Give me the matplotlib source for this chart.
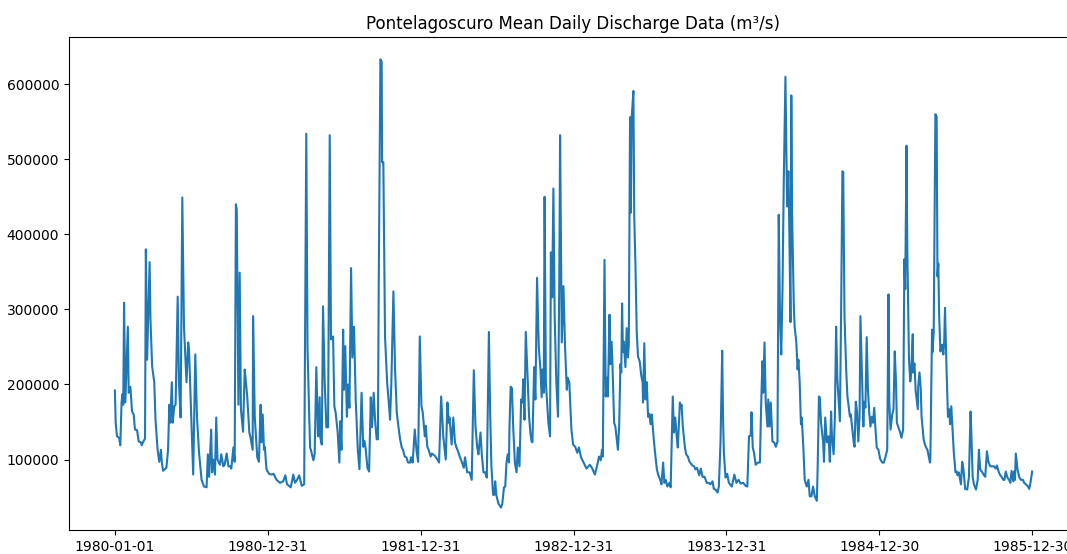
import numpy as np
import matplotlib
matplotlib.use("Agg")
import matplotlib.pyplot as plt
import matplotlib.dates as mdates

# Pontelagoscuro discharge
# day = days since 1980-01-01, q = discharge
start = np.datetime64("1980-01-01")

day_1980 = [0, 2, 5, 10, 13, 16, 18, 20, 22, 25, 31, 33, 37, 41, 45, 48, 53, 57, 62, 64, 68, 72, 74, 77, 83, 85,
            89, 94, 97, 102, 106, 110, 112, 115, 123, 127, 130, 132, 136, 138, 142, 145, 150, 153, 157, 161, 165,
            171, 175, 177, 181, 187, 192, 196, 201, 207, 213, 219, 222, 225, 230, 232, 235, 239, 242, 245, 251,
            254, 259, 262, 267, 271, 276, 278, 283, 286, 289, 291, 295, 298, 301, 306, 310, 312, 316, 321, 324,
            329, 330, 334, 340, 344, 348, 350, 353, 356, 358, 362]
q_1980 = [192000, 149000, 131000, 129000, 119000, 176000, 187000, 173000, 309000, 176000, 277000, 189000, 197000,
          164000, 160000, 140000, 139000, 124000, 123000, 119000, 124000, 128000, 380000, 233000, 363000, 287000,
          224000, 203000, 153000, 113000, 97000, 113000, 97000, 85000, 89000, 113000, 173000, 149000, 203000,
          149000, 171000, 173000, 317000, 203000, 156000, 449000, 277000, 203000, 256000, 247000, 180000, 80000,
          240000, 157000, 109000, 73000, 64000, 63000, 107000, 77000, 140000, 83000, 100000, 80000, 156000,
          100000, 93000, 107000, 91000, 93000, 108000, 91000, 91000, 88000, 116000, 97000, 440000, 433000,
          173000, 349000, 167000, 137000, 220000, 209000, 184000, 136000, 129000, 113000, 291000, 157000,
          103000, 97000, 173000, 123000, 160000, 113000, 117000, 87000]

day_1981 = [368, 374, 379, 386, 394, 402, 407, 411, 420, 426, 430, 435, 440, 446, 452, 457, 460, 466, 468, 474,
            477, 481, 485, 489, 490, 494, 497, 501, 505, 509, 513, 516, 521, 524, 527, 532, 536, 538, 541, 545,
            547, 550, 554, 557, 560, 564, 567, 571, 575, 580, 584, 589, 593, 596, 599, 603, 607, 611, 614, 618,
            621, 625, 628, 630, 634, 637, 638, 641, 645, 650, 654, 657, 660, 665, 669, 673, 677, 681, 685, 688,
            692, 696, 700, 705, 707, 711, 716, 720, 724, 728, 732, 735]
q_1981 = [81000, 80000, 81000, 73000, 69000, 71000, 79000, 67000, 63000, 80000, 69000, 73000, 79000, 65000,
          67000, 534000, 247000, 116000, 113000, 99000, 107000, 223000, 131000, 183000, 131000, 120000, 304000,
          203000, 143000, 143000, 532000, 260000, 264000, 171000, 163000, 136000, 96000, 151000, 113000,
          273000, 193000, 251000, 157000, 200000, 169000, 355000, 236000, 277000, 180000, 113000, 87000,
          189000, 117000, 125000, 113000, 89000, 84000, 183000, 143000, 189000, 155000, 127000, 127000,
          336000, 633000, 630000, 496000, 496000, 264000, 203000, 176000, 153000, 200000, 324000, 220000,
          163000, 144000, 127000, 116000, 113000, 104000, 103000, 96000, 96000, 103000, 96000, 140000,
          113000, 97000, 264000, 171000, 163000]

day_1982 = [740, 742, 746, 749, 754, 757, 764, 770, 774, 779, 784, 790, 794, 797, 799, 804, 808, 812, 815, 818,
            824, 829, 833, 836, 841, 847, 852, 857, 861, 865, 868, 873, 876, 880, 884, 888, 893, 896, 899, 903,
            906, 908, 911, 916, 922, 925, 929, 932, 935, 938, 941, 942, 945, 948, 951, 955, 959, 962, 966, 970,
            973, 975, 978, 981, 985, 989, 992, 995, 997, 1001, 1004, 1008, 1012, 1016, 1019, 1021, 1024, 1026,
            1029, 1035, 1039, 1041, 1044, 1047, 1050, 1054, 1058, 1061, 1063, 1067, 1071, 1075, 1079, 1081,
            1085, 1090, 1094, 1099, 1104]
q_1982 = [131000, 145000, 117000, 113000, 104000, 108000, 105000, 100000, 96000, 184000, 131000, 100000,
          176000, 149000, 156000, 120000, 156000, 123000, 117000, 113000, 103000, 96000, 89000, 103000,
          83000, 83000, 73000, 219000, 144000, 117000, 107000, 136000, 107000, 83000, 83000, 76000, 270000,
          163000, 91000, 53000, 53000, 71000, 52000, 41000, 36000, 41000, 63000, 64000, 96000, 107000, 96000,
          140000, 197000, 195000, 144000, 96000, 83000, 116000, 91000, 180000, 176000, 207000, 153000,
          270000, 216000, 157000, 136000, 124000, 123000, 223000, 180000, 342000, 251000, 220000, 183000,
          220000, 189000, 450000, 203000, 149000, 131000, 376000, 316000, 461000, 291000, 203000, 157000,
          336000, 532000, 256000, 331000, 247000, 193000, 209000, 203000, 140000, 120000, 117000, 109000]

day_1983 = [1108, 1113, 1119, 1126, 1134, 1139, 1146, 1151, 1156, 1160, 1163, 1165, 1169, 1172, 1175, 1177,
            1181, 1183, 1186, 1188, 1192, 1195, 1199, 1201, 1204, 1207, 1209, 1211, 1213, 1215, 1219, 1222,
            1225, 1227, 1230, 1232, 1234, 1238, 1240, 1243, 1246, 1249, 1253, 1257, 1260, 1261, 1264, 1267,
            1270, 1273, 1276, 1279, 1282, 1286, 1289, 1294, 1297, 1302, 1305, 1309, 1312, 1315, 1319, 1324,
            1327, 1332, 1335, 1338, 1342, 1344, 1349, 1351, 1353, 1356, 1361, 1364, 1368, 1372, 1379, 1383,
            1386, 1390, 1395, 1399, 1403, 1408, 1413, 1418, 1422, 1427, 1430, 1434, 1439, 1442, 1446, 1450,
            1452, 1454, 1458, 1462, 1466, 1473, 1479]
q_1983 = [116000, 103000, 96000, 88000, 93000, 89000, 80000, 91000, 104000, 99000, 113000, 104000, 366000,
          184000, 209000, 184000, 293000, 227000, 257000, 227000, 149000, 144000, 123000, 113000, 144000,
          227000, 216000, 308000, 243000, 257000, 223000, 275000, 236000, 253000, 556000, 429000, 556000,
          591000, 424000, 357000, 269000, 237000, 231000, 211000, 203000, 176000, 255000, 180000, 203000,
          157000, 161000, 147000, 160000, 131000, 113000, 87000, 80000, 73000, 67000, 96000, 69000, 73000,
          64000, 69000, 63000, 184000, 136000, 156000, 127000, 116000, 176000, 169000, 173000, 144000,
          116000, 107000, 104000, 97000, 92000, 91000, 87000, 89000, 79000, 88000, 77000, 77000, 69000,
          69000, 67000, 71000, 61000, 60000, 56000, 64000, 123000, 245000, 157000, 109000, 76000, 81000,
          69000, 64000, 80000]

day_1984 = [1484, 1489, 1494, 1500, 1506, 1510, 1514, 1518, 1520, 1523, 1526, 1530, 1535, 1540, 1543, 1546,
            1548, 1551, 1554, 1558, 1560, 1563, 1566, 1570, 1574, 1578, 1582, 1585, 1588, 1591, 1594, 1597,
            1601, 1603, 1605, 1608, 1610, 1613, 1615, 1617, 1621, 1623, 1627, 1630, 1632, 1635, 1638, 1640,
            1644, 1647, 1652, 1656, 1659, 1663, 1667, 1671, 1676, 1678, 1681, 1683, 1686, 1691, 1693, 1696,
            1700, 1704, 1707, 1710, 1712, 1716, 1719, 1722, 1725, 1729, 1731, 1734, 1737, 1739, 1742, 1746,
            1749, 1752, 1755, 1757, 1760, 1764, 1766, 1769, 1772, 1775, 1778, 1780, 1783, 1787, 1789, 1792,
            1795, 1798, 1801, 1804, 1807, 1810, 1813, 1816, 1819, 1823, 1827, 1832, 1836, 1840, 1844, 1847]
q_1984 = [69000, 73000, 68000, 69000, 65000, 64000, 131000, 132000, 163000, 116000, 109000, 93000, 96000,
          96000, 171000, 231000, 189000, 256000, 176000, 144000, 180000, 144000, 176000, 124000, 123000,
          117000, 124000, 426000, 291000, 240000, 327000, 469000, 610000, 522000, 437000, 484000, 417000,
          283000, 585000, 424000, 304000, 277000, 256000, 220000, 233000, 203000, 147000, 156000, 113000,
          73000, 64000, 73000, 51000, 51000, 64000, 51000, 45000, 91000, 184000, 183000, 149000, 123000,
          97000, 156000, 123000, 131000, 97000, 164000, 131000, 107000, 156000, 277000, 207000, 171000,
          151000, 300000, 484000, 483000, 291000, 220000, 184000, 171000, 157000, 160000, 144000, 123000,
          117000, 177000, 163000, 124000, 157000, 291000, 227000, 144000, 177000, 169000, 263000, 193000,
          163000, 144000, 157000, 149000, 169000, 140000, 116000, 113000, 101000, 96000, 96000, 104000,
          113000, 320000]

day_1985 = [1849, 1852, 1856, 1859, 1862, 1865, 1867, 1875, 1878, 1882, 1885, 1887, 1890, 1892, 1896, 1899,
            1901, 1905, 1906, 1909, 1912, 1917, 1918, 1921, 1924, 1926, 1931, 1934, 1937, 1940, 1946, 1947,
            1951, 1952, 1955, 1959, 1962, 1964, 1966, 1968, 1971, 1975, 1978, 1980, 1982, 1985, 1989, 1992,
            1994, 1997, 2000, 2003, 2007, 2010, 2012, 2015, 2020, 2023, 2026, 2030, 2035, 2039, 2043, 2045,
            2048, 2051, 2056, 2060, 2063, 2066, 2071, 2075, 2078, 2082, 2086, 2090, 2095, 2099, 2103, 2106,
            2110, 2113, 2117, 2121, 2124, 2127, 2131, 2135, 2138, 2141, 2145, 2147, 2149, 2151, 2155, 2159,
            2163, 2168, 2171, 2175, 2179, 2183, 2186, 2190]
q_1985 = [176000, 140000, 160000, 167000, 244000, 203000, 149000, 136000, 129000, 140000, 367000, 327000,
          518000, 377000, 233000, 204000, 213000, 267000, 216000, 228000, 191000, 167000, 197000, 216000,
          195000, 157000, 127000, 120000, 116000, 113000, 96000, 100000, 273000, 243000, 269000, 560000,
          557000, 344000, 361000, 291000, 244000, 253000, 240000, 257000, 302000, 233000, 157000, 167000,
          147000, 171000, 140000, 109000, 83000, 84000, 79000, 83000, 67000, 97000, 87000, 61000, 60000,
          76000, 164000, 133000, 77000, 67000, 60000, 73000, 113000, 87000, 83000, 79000, 77000, 111000,
          96000, 91000, 91000, 91000, 88000, 92000, 84000, 80000, 77000, 73000, 73000, 84000, 76000, 73000,
          69000, 85000, 71000, 84000, 73000, 108000, 87000, 77000, 73000, 73000, 69000, 67000, 65000, 61000,
          69000, 84000]

days = np.concatenate([day_1980, day_1981, day_1982, day_1983, day_1984, day_1985])
flow = np.concatenate([q_1980, q_1981, q_1982, q_1983, q_1984, q_1985])
dates = start + days.astype("timedelta64[D]")

tick_dates = start + (np.arange(7) * 365).astype("timedelta64[D]")

fig = plt.figure(figsize=(10.67, 5.54), dpi=100)
# axes runs past the right edge, as in the (cropped) original
ax = fig.add_axes([69 / 1067, 24 / 554, 1009 / 1067, 493 / 554])
ax.plot(dates, flow)
ax.set_xticks(tick_dates)
ax.xaxis.set_major_formatter(mdates.DateFormatter("%Y-%m-%d"))
ax.set_title("Pontelagoscuro Mean Daily Discharge Data (m³/s)")

fig.savefig("out.png", dpi=100)
